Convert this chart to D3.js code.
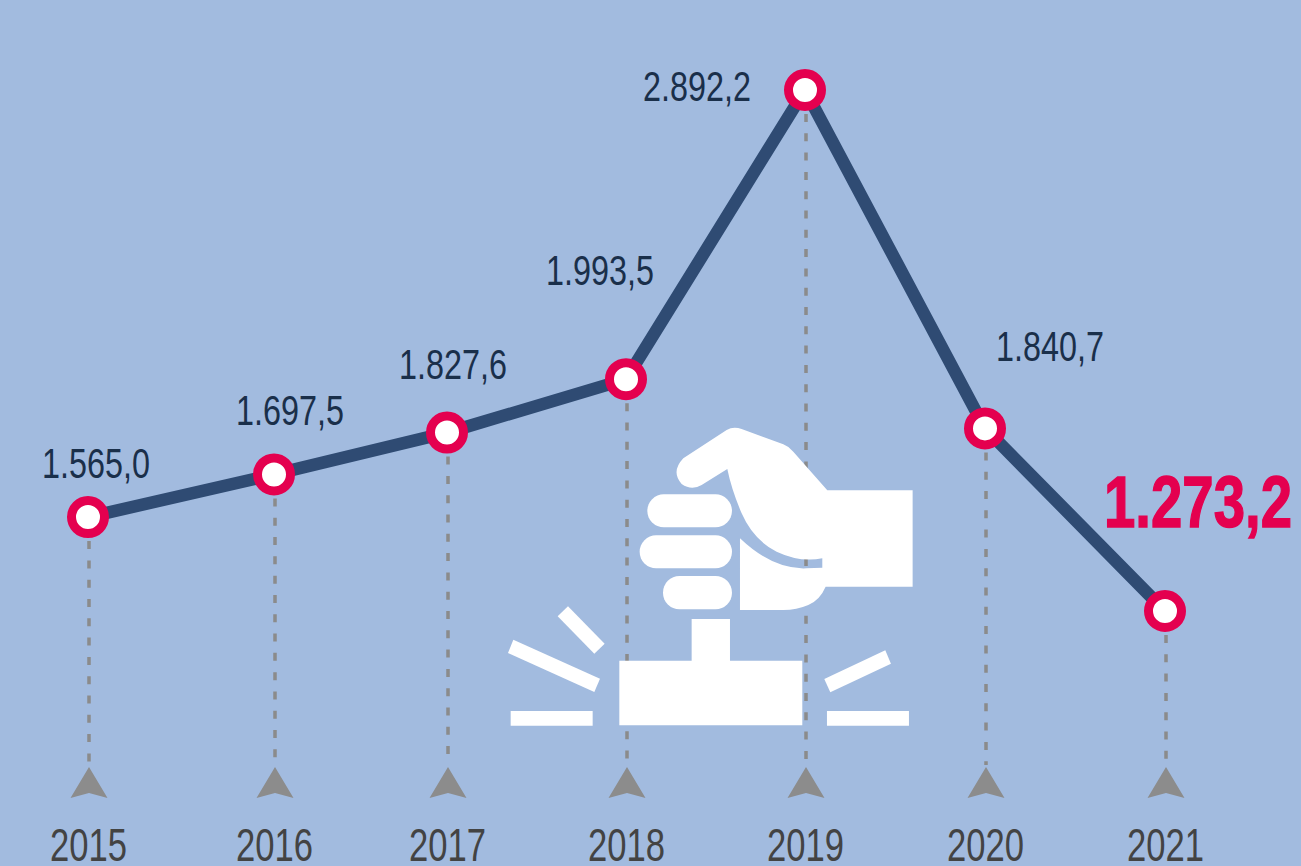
<!DOCTYPE html>
<html>
<head>
<meta charset="utf-8">
<script src="https://cdn.jsdelivr.net/npm/d3@7"></script>
<style>
  html, body { margin: 0; padding: 0; background: #a2bbdf; overflow: hidden; }
  svg { display: block; }
</style>
</head>
<body>
<script>
const years = ['2015', '2016', '2017', '2018', '2019', '2020', '2021'];
const values = [1565.0, 1697.5, 1827.6, 1993.5, 2892.2, 1840.7, 1273.2];
const valueLabels = ['1.565,0', '1.697,5', '1.827,6', '1.993,5', '2.892,2', '1.840,7', '1.273,2'];

const width = 1301;
const height = 866;
const arrowY = 767;

const svg = d3.select('body').append('svg')
  .attr('width', width)
  .attr('height', height);

svg.append('rect')
  .attr('width', width)
  .attr('height', height)
  .style('fill', '#a2bbdf');

// the years are not evenly spaced in the original
const x = d3.scaleOrdinal()
  .domain(years)
  .range([88, 274, 447, 626, 805, 985, 1165]);

const y = d3.scaleLinear()
  .domain([1273.2, 2892.2])
  .range([611, 90]);

const points = years.map((year, i) => ({year, value: values[i], label: valueLabels[i]}));

// label placement relative to each point: [dx, dy to baseline]
const labelOffsets = [[8, -39], [16, -49], [6, -54], [-26, -94], [-108, 11], [65, -67], [33, -84]];

svg.append('g')
  .selectAll('line')
  .data(points)
  .enter().append('line')
    .attr('x1', d => x(d.year) + 1)
    .attr('x2', d => x(d.year) + 1)
    .attr('y1', d => y(d.value) + 24)
    .attr('y2', arrowY - 2)
    .style('stroke', '#8b8b8b')
    .style('stroke-width', 3.5)
    .style('stroke-dasharray', '8 11.3');

svg.append('g')
  .selectAll('path')
  .data(points)
  .enter().append('path')
    .attr('transform', d => `translate(${x(d.year) + 1},${arrowY})`)
    .attr('d', 'M0 0L18.5 31L0 26L-18.5 31Z')
    .style('fill', '#8c8c8c');

// stamp icon, traced at 3x
const icon = svg.append('g')
  .attr('transform', 'translate(500,410) scale(0.3333)')
  .style('fill', 'white');

icon.append('path')
  .attr('d', 'M682 177L605 225Q575 243 545 222Q512 185 550 145L680 60Q700 48 725 57L850 103Q868 110 880 125L982 241L1238 241L1238 530L977 530Q960 570 925 585Q890 600 850 600L720 600L720 385Q820 480 920 475L967 473L967 445Q900 458 830 425Q760 390 725 310Q695 240 682 177Z');

[[442, 253, 254, 99], [419, 376, 277, 99], [489, 498, 207, 100]].forEach(f => {
  icon.append('rect')
    .attr('x', f[0]).attr('y', f[1])
    .attr('width', f[2]).attr('height', f[3])
    .attr('rx', 49.5);
});

icon.append('path').attr('d', 'M575 627H690V752H907V946H358V752H575Z');
icon.append('path').attr('d', 'M32 903H278V947H32Z');
icon.append('path').attr('d', 'M981 903H1227V947H981Z');
icon.append('path').attr('d', 'M40 689L300 806L283 846L24 729Z');
icon.append('path').attr('d', 'M204 589L314 701L283 731L173 619Z');
icon.append('path').attr('d', 'M1156 721L1173 761L991 847L973 807Z');

const line = d3.line()
  .x(d => x(d.year))
  .y(d => y(d.value));

svg.append('path')
  .datum(points)
  .attr('d', line)
  .style('fill', 'none')
  .style('stroke', '#2f4b73')
  .style('stroke-width', 12.5)
  .style('stroke-linejoin', 'miter');

svg.append('g')
  .selectAll('circle')
  .data(points)
  .enter().append('circle')
    .attr('cx', d => x(d.year))
    .attr('cy', d => y(d.value))
    .attr('r', 16.5)
    .style('fill', 'white')
    .style('stroke', '#e4004f')
    .style('stroke-width', 9);

// condensed look: squeeze the text horizontally to the wanted width
const squeeze = (sel, widthOf) => sel.each(function(d, i) {
  const t = d3.select(this);
  const tx = +t.attr('x') || 0;
  const ty = +t.attr('y') || 0;
  t.attr('x', 0).attr('y', 0)
    .attr('transform', `translate(${tx},${ty}) scale(${widthOf(i) / this.getComputedTextLength()},1)`);
});

svg.append('g')
  .selectAll('text')
  .data(points)
  .enter().append('text')
    .attr('x', (d, i) => x(d.year) + labelOffsets[i][0])
    .attr('y', (d, i) => y(d.value) + labelOffsets[i][1])
    .attr('text-anchor', 'middle')
    .style('font-family', '"Liberation Sans", sans-serif')
    .style('font-size', (d, i) => i === 6 ? '72px' : '43px')
    .style('font-weight', (d, i) => i === 6 ? 'bold' : 'normal')
    .style('fill', (d, i) => i === 6 ? '#e4004f' : '#1a2f4a')
    .style('stroke', (d, i) => i === 6 ? '#e4004f' : 'none')
    .style('stroke-width', 1.5)
    .text(d => d.label)
    .call(squeeze, i => i === 6 ? 188 : 108);

const axis = d3.axisBottom(x).tickSize(0).tickPadding(0);

const axisG = svg.append('g')
  .attr('transform', 'translate(0,826)')
  .call(axis);

axisG.select('.domain').remove();

axisG.selectAll('text')
  .attr('y', 35)
  .attr('dy', 0)
  .style('font-family', '"Liberation Sans", sans-serif')
  .style('font-size', '46px')
  .style('fill', '#434343')
  .call(squeeze, () => 77);
</script>
</body>
</html>
